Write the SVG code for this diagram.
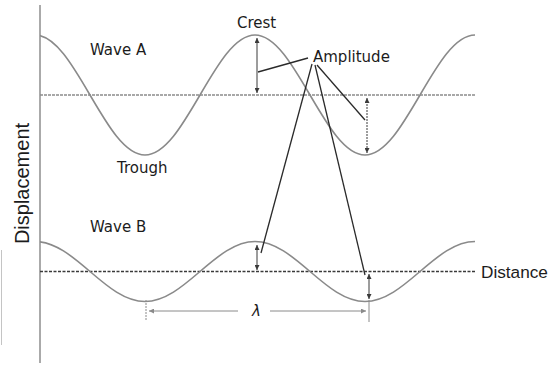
<svg xmlns="http://www.w3.org/2000/svg" width="551" height="366" viewBox="0 0 551 366">
  <style>
    .lbl { font-family: "DejaVu Sans", Verdana, sans-serif; font-size: 15px; fill: #1c1c1c; }
    .ax { font-family: "Liberation Sans", Arial, sans-serif; fill: #1c1c1c; }
    .wave { fill: none; stroke: #8a8a8a; stroke-width: 1.6; }
    .amp { stroke: #3a3a3a; stroke-width: 1; fill: none; marker-start: url(#ah); marker-end: url(#ah); }
    .lead { stroke: #2a2a2a; stroke-width: 1.3; fill: none; }
    .dim { stroke: #8a8a8a; stroke-width: 1; fill: none; }
  </style>
  <defs>
    <marker id="ah" viewBox="0 0 6 6" refX="6" refY="3" markerWidth="5" markerHeight="5" markerUnits="userSpaceOnUse" orient="auto-start-reverse">
      <path d="M0,0 L6,3 L0,6 z" fill="#3a3a3a"/>
    </marker>
    <marker id="ahg" viewBox="0 0 6 6" refX="6" refY="3" markerWidth="6" markerHeight="5" markerUnits="userSpaceOnUse" orient="auto-start-reverse">
      <path d="M0,0 L6,3 L0,6 z" fill="#8a8a8a"/>
    </marker>
    <clipPath id="plot"><rect x="40" y="0" width="511" height="366"/></clipPath>
  </defs>
  <rect width="551" height="366" fill="#ffffff"/>

  <g id="axes">
    <line x1="40" y1="5" x2="40" y2="363" stroke="#aaaaaa" stroke-width="2"/>
    <line x1="1.5" y1="250" x2="1.5" y2="345" stroke="#c4c4c4" stroke-width="1"/>
    <line x1="40" y1="95" x2="475" y2="95" stroke="#8c8c8c" stroke-width="1.5" stroke-dasharray="3,1"/>
    <line x1="40" y1="271.5" x2="475" y2="271.5" stroke="#3a3a3a" stroke-width="1.3" stroke-dasharray="3,1.5"/>
    <text class="ax" font-size="20" text-anchor="middle" transform="translate(29,183.5) rotate(-90)">Displacement</text>
    <text class="ax" font-size="17.2" x="481" y="278">Distance</text>
  </g>

  <g id="wave-a">
    <path class="wave" clip-path="url(#plot)" d="M35,35 C75,35 105,155 145,155 C185,155 215,35 255,35 C295,35 325,155 365,155 C405,155 435,35 475,35"/>
    <text class="lbl" x="90" y="55">Wave A</text>
    <text class="lbl" x="237" y="28">Crest</text>
    <text class="lbl" x="117" y="173">Trough</text>
  </g>

  <g id="wave-b">
    <path class="wave" clip-path="url(#plot)" d="M35,241.5 C75,241.5 105,301.5 145,301.5 C185,301.5 215,241.5 255,241.5 C295,241.5 325,301.5 365,301.5 C405,301.5 435,241.5 475,241.5"/>
    <text class="lbl" x="90" y="232">Wave B</text>
  </g>

  <g id="amplitude">
    <text class="lbl" x="313" y="62">Amplitude</text>
  </g>

  <g id="connectors">
    <line class="amp" x1="257" y1="38" x2="257" y2="93"/>
    <line class="amp" x1="367" y1="98" x2="367" y2="153" stroke-dasharray="2,1"/>
    <line class="amp" x1="257" y1="245" x2="257" y2="270"/>
    <line class="amp" x1="369" y1="274" x2="369" y2="299"/>
    <line class="lead" x1="258" y1="72" x2="308" y2="58"/>
    <line class="lead" x1="317" y1="65" x2="365" y2="120"/>
    <line class="lead" x1="312" y1="64" x2="261" y2="253"/>
    <line class="lead" x1="315" y1="65" x2="365" y2="275"/>
    <line class="dim" x1="146" y1="300" x2="146" y2="321" stroke-dasharray="2,1"/>
    <line class="dim" x1="369" y1="300" x2="369" y2="322"/>
    <line class="dim" x1="149" y1="311" x2="238" y2="311" marker-start="url(#ahg)"/>
    <line class="dim" x1="270" y1="311" x2="366" y2="311" marker-end="url(#ahg)"/>
    <text class="lbl" x="256.5" y="316" font-size="14" text-anchor="middle" font-style="italic">λ</text>
  </g>
</svg>
